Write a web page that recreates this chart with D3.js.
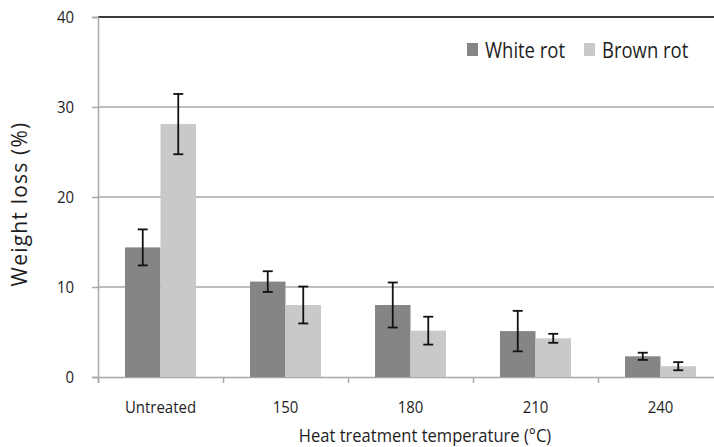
<!DOCTYPE html>
<html>
<head>
<meta charset="utf-8">
<script src="https://cdn.jsdelivr.net/npm/d3@7"></script>
<style>
  body { margin: 0; background: #fff; overflow: hidden; }
  svg { display: block; font-family: "Open Sans", sans-serif; }
</style>
</head>
<body>
<svg id="chart" width="714" height="447"></svg>
<script>
// data
const categories = ['Untreated', '150', '180', '210', '240'];
const seriesNames = ['White rot', 'Brown rot'];
const whiteRot = [14.4, 10.6, 8.0, 5.1, 2.3];
const whiteRotErr = [2.0, 1.15, 2.5, 2.25, 0.4];
const brownRot = [28.1, 8.0, 5.15, 4.3, 1.2];
const brownRotErr = [3.35, 2.05, 1.55, 0.5, 0.45];
const yTicks = [0, 10, 20, 30, 40];

const colors = ['#858585', '#c9c9c9'];
const textColor = '#1e1e1e';

const margin = {top: 17, left: 98};
const plotW = 625, plotH = 360;

const svg = d3.select('#chart');
const g = svg.append('g')
    .attr('transform', 'translate(' + margin.left + ',' + margin.top + ')');

// the original font is narrow, squeeze the text a bit
function label(parent, x, y, txt, size, anchor, sx, rot) {
    let t = parent.append('g')
        .attr('transform', 'translate(' + x + ',' + y + ')' + (rot ? ' rotate(' + rot + ')' : '') + ' scale(' + sx + ',1)')
        .append('text')
        .attr('text-anchor', anchor)
        .attr('font-size', size)
        .attr('fill', textColor)
        .text(txt);
    return t;
}

const x0 = d3.scaleBand().domain(categories).range([0, plotW]).padding(0);
const x1 = d3.scaleBand().domain(seriesNames).range([27, x0.bandwidth() - 27]).padding(0);
const y = d3.scaleLinear().domain([0, 40]).range([plotH, 0]);

// gridlines
g.selectAll('line.grid')
    .data(yTicks.filter(d => d > 0 && d < 40))
    .enter()
    .append('line')
    .attr('class', 'grid')
    .attr('x1', 0).attr('x2', plotW)
    .attr('y1', d => y(d)).attr('y2', d => y(d))
    .attr('stroke', '#a8a8a8')
    .attr('stroke-width', 1.5);

// top border
g.append('line')
    .attr('x1', 0).attr('x2', plotW)
    .attr('y1', y(40)).attr('y2', y(40))
    .attr('stroke', '#3a3a3a')
    .attr('stroke-width', 2);

// left axis
const yAxis = g.append('g')
    .call(d3.axisLeft(y).tickValues(yTicks).tickSize(6).tickFormat(''));
yAxis.select('.domain').attr('stroke', '#a8a8a8').attr('stroke-width', 1.5);
yAxis.selectAll('.tick line').attr('stroke', '#a8a8a8').attr('stroke-width', 1.5);
yTicks.forEach(d => {
    label(g, -24, y(d) + 6, d, 17, 'end', 0.88);
});

// bottom axis with ticks at band boundaries
const xb = d3.scaleLinear().domain([0, categories.length]).range([0, plotW]);
const xAxis = g.append('g')
    .attr('transform', 'translate(0,' + plotH + ')')
    .call(d3.axisBottom(xb).ticks(categories.length).tickSize(6).tickFormat(''));
xAxis.select('.domain').attr('stroke', '#a8a8a8').attr('stroke-width', 1.5);
xAxis.selectAll('.tick line').attr('stroke', '#a8a8a8').attr('stroke-width', 1.5);

categories.forEach(c => {
    label(g, x0(c) + x0.bandwidth() / 2, plotH + 36, c, 17, 'middle', 0.88);
});

// bars
const rows = categories.map((c, i) => ({
    cat: c,
    vals: [
        {s: seriesNames[0], v: whiteRot[i], e: whiteRotErr[i], c: colors[0]},
        {s: seriesNames[1], v: brownRot[i], e: brownRotErr[i], c: colors[1]}
    ]
}));

const grp = g.selectAll('g.cat')
    .data(rows)
    .enter()
    .append('g')
    .attr('transform', d => 'translate(' + x0(d.cat) + ',0)');

grp.selectAll('rect')
    .data(d => d.vals)
    .enter()
    .append('rect')
    .attr('x', d => x1(d.s))
    .attr('y', d => y(d.v))
    .attr('width', x1.bandwidth())
    .attr('height', d => plotH - y(d.v))
    .attr('fill', d => d.c);

// error bars
const err = grp.selectAll('g.err')
    .data(d => d.vals)
    .enter()
    .append('g')
    .attr('stroke', '#111')
    .attr('stroke-width', 1.8);
err.append('line')
    .attr('x1', d => x1(d.s) + x1.bandwidth() / 2)
    .attr('x2', d => x1(d.s) + x1.bandwidth() / 2)
    .attr('y1', d => y(d.v + d.e))
    .attr('y2', d => y(d.v - d.e));
[1, -1].forEach(sign => {
    err.append('line')
        .attr('x1', d => x1(d.s) + x1.bandwidth() / 2 - 5)
        .attr('x2', d => x1(d.s) + x1.bandwidth() / 2 + 5)
        .attr('y1', d => y(d.v + sign * d.e))
        .attr('y2', d => y(d.v + sign * d.e));
});

// legend
const legend = svg.append('g').attr('transform', 'translate(467,43)');
const legendX = [0, 117];
seriesNames.forEach((s, i) => {
    legend.append('rect')
        .attr('x', legendX[i]).attr('y', 0)
        .attr('width', 11).attr('height', 13)
        .attr('fill', colors[i]);
    label(legend, legendX[i] + 18, 15, s, 21, 'start', 0.88);
});

// axis titles
label(svg, 425, 442, 'Heat treatment temperature (°C)', 18, 'middle', 0.92);

label(svg, 27, 204, 'Weight loss (%)', 21, 'middle', 1, -90)
    .attr('letter-spacing', 1.2);
</script>
</body>
</html>
